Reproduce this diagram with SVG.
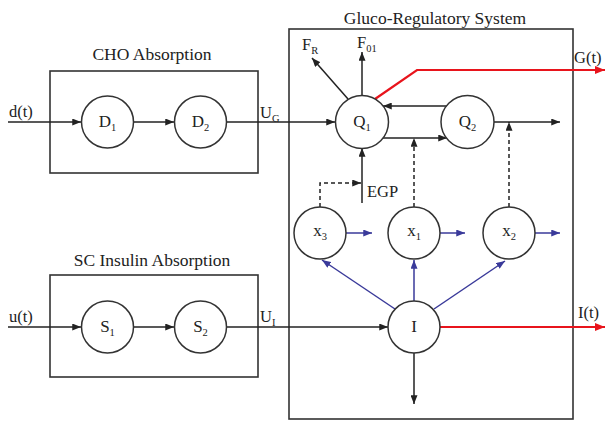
<svg xmlns="http://www.w3.org/2000/svg" width="607" height="421" viewBox="0 0 607 421">
<style>
text{font-family:"Liberation Serif","Times New Roman",serif;fill:#222;}
.t{font-size:17.5px;}
.l{font-size:16.5px;}
.n{font-size:17px;text-anchor:middle;}
.s{font-size:10.5px;}
.box{fill:none;stroke:#333;stroke-width:1.6;}
.node circle{fill:#fff;stroke:#333;stroke-width:1.5;}
.k{fill:none;stroke:#222;stroke-width:1.5;}
.kd{fill:none;stroke:#222;stroke-width:1.5;stroke-dasharray:4 3;}
.b{fill:none;stroke:#3a3a9a;stroke-width:1.5;}
.r{fill:none;stroke:#e8141c;stroke-width:2.2;}
</style>
<defs>
<marker id="ak" viewBox="0 0 10 8" refX="10" refY="4" markerWidth="9" markerHeight="7" markerUnits="userSpaceOnUse" orient="auto"><path d="M0,0 L10,4 L0,8 z" fill="#222"/></marker>
<marker id="ab" viewBox="0 0 10 8" refX="10" refY="4" markerWidth="9" markerHeight="7" markerUnits="userSpaceOnUse" orient="auto"><path d="M0,0 L10,4 L0,8 z" fill="#3a3a9a"/></marker>
<marker id="ar" viewBox="0 0 10 8" refX="10" refY="4" markerWidth="10" markerHeight="8" markerUnits="userSpaceOnUse" orient="auto"><path d="M0,0 L10,4 L0,8 z" fill="#e8141c"/></marker>
</defs>
<rect width="607" height="421" fill="#fff"/>

<g id="cho-box">
<rect class="box" x="50" y="71" width="208" height="102"/>
<text class="t" x="152" y="60" text-anchor="middle">CHO Absorption</text>
</g>
<g id="sc-box">
<rect class="box" x="50" y="275" width="208" height="102"/>
<text class="t" x="152" y="266" text-anchor="middle">SC Insulin Absorption</text>
</g>
<g id="gluco-box">
<rect class="box" x="289" y="29" width="284" height="390"/>
<text class="t" x="435" y="24" text-anchor="middle">Gluco-Regulatory System</text>
</g>

<g id="connectors">
<path class="k" d="M8,122 H81" marker-end="url(#ak)"/>
<path class="k" d="M134,122 H174" marker-end="url(#ak)"/>
<path class="k" d="M227,122 H335" marker-end="url(#ak)"/>
<path class="k" d="M8,327 H81" marker-end="url(#ak)"/>
<path class="k" d="M134,327 H174" marker-end="url(#ak)"/>
<path class="k" d="M227,327 H388" marker-end="url(#ak)"/>
<path class="k" d="M447,106 H383" marker-end="url(#ak)"/>
<path class="k" d="M382,138 H447" marker-end="url(#ak)"/>
<path class="k" d="M494,122 H560" marker-end="url(#ak)"/>
<path class="k" d="M362,96 V52" marker-end="url(#ak)"/>
<path class="k" d="M348,99 L312,58" marker-end="url(#ak)"/>
<path class="k" d="M362,203 V148" marker-end="url(#ak)"/>
<path class="kd" d="M320,207 V183 H361" marker-end="url(#ak)"/>
<path class="kd" d="M414,207 V138" marker-end="url(#ak)"/>
<path class="kd" d="M509,207 V122" marker-end="url(#ak)"/>
<path class="b" d="M346,233 H372" marker-end="url(#ab)"/>
<path class="b" d="M440,233 H465" marker-end="url(#ab)"/>
<path class="b" d="M535,233 H560" marker-end="url(#ab)"/>
<path class="b" d="M395,309 L322,260" marker-end="url(#ab)"/>
<path class="b" d="M414,301 V260" marker-end="url(#ab)"/>
<path class="b" d="M434,309 L505,261" marker-end="url(#ab)"/>
<path class="k" d="M414,353 V404" marker-end="url(#ak)"/>
<path class="r" d="M375,99 L417,70 H605" marker-end="url(#ar)"/>
<path class="r" d="M440,327 H605" marker-end="url(#ar)"/>
</g>

<g id="labels">
<text class="l" x="9" y="117">d(t)</text>
<text class="l" x="9" y="322">u(t)</text>
<text class="l" x="260" y="118">U<tspan class="s" dy="4">G</tspan></text>
<text class="l" x="260" y="322">U<tspan class="s" dy="4">I</tspan></text>
<text class="l" x="302" y="50">F<tspan class="s" dy="4">R</tspan></text>
<text class="l" x="357" y="48">F<tspan class="s" dy="4">01</tspan></text>
<text class="l" x="574" y="63">G(t)</text>
<text class="l" x="578" y="318">I(t)</text>
<text class="l" x="367" y="197">EGP</text>
</g>

<g id="node-D1" class="node"><circle cx="107.5" cy="122" r="26"/><text class="n" x="107.5" y="127">D<tspan class="s" dy="4">1</tspan></text></g>
<g id="node-D2" class="node"><circle cx="200.5" cy="122" r="26"/><text class="n" x="200.5" y="127">D<tspan class="s" dy="4">2</tspan></text></g>
<g id="node-S1" class="node"><circle cx="107.5" cy="327" r="26"/><text class="n" x="107.5" y="332">S<tspan class="s" dy="4">1</tspan></text></g>
<g id="node-S2" class="node"><circle cx="200.5" cy="327" r="26"/><text class="n" x="200.5" y="332">S<tspan class="s" dy="4">2</tspan></text></g>
<g id="node-Q1" class="node"><circle cx="362" cy="122" r="26.5"/><text class="n" x="362" y="127">Q<tspan class="s" dy="4">1</tspan></text></g>
<g id="node-Q2" class="node"><circle cx="467.5" cy="122" r="26.5"/><text class="n" x="467.5" y="127">Q<tspan class="s" dy="4">2</tspan></text></g>
<g id="node-x3" class="node"><circle cx="320" cy="233" r="26"/><text class="n" x="320" y="236">x<tspan class="s" dy="4">3</tspan></text></g>
<g id="node-x1" class="node"><circle cx="414" cy="233" r="26"/><text class="n" x="414" y="236">x<tspan class="s" dy="4">1</tspan></text></g>
<g id="node-x2" class="node"><circle cx="509" cy="233" r="26"/><text class="n" x="509" y="236">x<tspan class="s" dy="4">2</tspan></text></g>
<g id="node-I" class="node"><circle cx="414" cy="327" r="26"/><text class="n" x="414" y="332">I</text></g>
</svg>
